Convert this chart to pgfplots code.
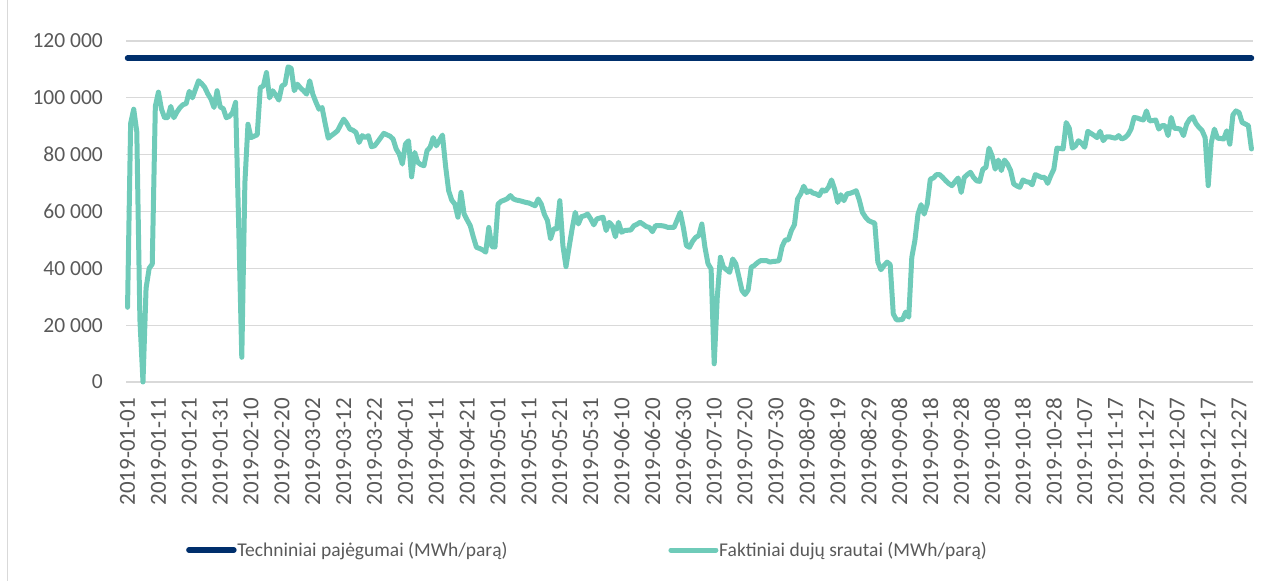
\documentclass[border=0pt]{standalone}
\usepackage{fontspec}
\setmainfont{Carlito}
\usepackage{pgfplots}
\pgfplotsset{compat=1.18}
\usepackage{pgfplotstable}

\definecolor{navyline}{HTML}{002F6C}
\definecolor{flowline}{HTML}{6FCBB9}
\definecolor{gridgray}{HTML}{D9D9D9}
\definecolor{txtgray}{HTML}{595959}

% daily flows, day 0 = 2019-01-01
\pgfplotstableread{
d v
0 26300
1 91000
2 96000
3 88000
4 22000
5 0
6 33000
7 40000
8 41500
9 97000
10 102000
11 96000
12 93000
13 93000
14 97000
15 93000
16 95000
17 96600
18 97600
19 98000
20 102300
21 100000
22 103000
23 106000
24 105000
25 103700
26 101400
27 99600
28 96600
29 102500
30 96800
31 96200
32 93000
33 93500
34 94800
35 98400
36 55000
37 8700
38 70000
39 90700
40 86000
41 86500
42 87000
43 103600
44 104200
45 108900
46 100000
47 102500
48 101000
49 99200
50 104200
51 104800
52 110900
53 110400
54 102500
55 104800
56 103500
57 102500
58 101300
59 106000
60 101300
61 98500
62 96000
63 96600
64 91000
65 85800
66 86700
67 87500
68 88400
69 90500
70 92500
71 91000
72 89000
73 88600
74 87800
75 84300
76 86700
77 86000
78 86700
79 82800
80 83100
81 84500
82 86000
83 87500
84 87000
85 86500
86 85500
87 82000
88 80200
89 76700
90 83700
91 84900
92 72200
93 80800
94 77300
95 76500
96 76100
97 81400
98 82600
99 86000
100 83100
101 85000
102 86900
103 76000
104 67300
105 64000
106 62600
107 58000
108 66700
109 59100
110 57000
111 55000
112 51000
113 47400
114 47000
115 46500
116 45700
117 54400
118 47600
119 47500
120 62600
121 63600
122 64000
123 64500
124 65600
125 64400
126 64000
127 63800
128 63500
129 63200
130 63000
131 62500
132 62000
133 64400
134 62600
135 59000
136 56800
137 50400
138 53900
139 53900
140 63800
141 48000
142 40600
143 47400
144 54000
145 59700
146 55600
147 58200
148 58500
149 59100
150 57400
151 55300
152 57400
153 57700
154 58000
155 53300
156 56200
157 55000
158 51100
159 56200
160 52700
161 53300
162 53400
163 53500
164 55000
165 55500
166 56200
167 55500
168 54700
169 54400
170 52900
171 55000
172 55000
173 55000
174 54800
175 54400
176 54400
177 54400
178 57000
179 59700
180 54400
181 48000
182 47400
183 49500
184 50900
185 51500
186 55600
187 47400
188 41600
189 39800
190 6400
191 30000
192 43900
193 40400
194 39500
195 38600
196 43300
197 41600
198 37000
199 32200
200 30800
201 32400
202 40400
203 41000
204 42000
205 42700
206 42700
207 42700
208 42200
209 42400
210 42500
211 42700
212 47700
213 50000
214 50000
215 53300
216 55400
217 64400
218 66200
219 68900
220 66700
221 67300
222 66500
223 66200
224 65600
225 67600
226 67100
227 68500
228 71100
229 67900
230 63200
231 65900
232 63800
233 66200
234 66400
235 66800
236 67300
237 64000
238 59700
239 58000
240 56800
241 56300
242 55900
243 42200
244 39500
245 41000
246 42200
247 41300
248 24000
249 21900
250 21900
251 22000
252 24600
253 22800
254 43900
255 49800
256 59100
257 62400
258 59100
259 62600
260 71400
261 71800
262 73000
263 73000
264 72000
265 70800
266 69800
267 69100
268 70500
269 71800
270 66700
271 72000
272 73000
273 73800
274 72000
275 70800
276 70600
277 74900
278 75500
279 82300
280 79600
281 74900
282 78100
283 74400
284 78100
285 76700
286 74400
287 69700
288 69000
289 68500
290 71100
291 70500
292 70300
293 69400
294 73000
295 72500
296 72000
297 72000
298 69900
299 72600
300 74900
301 82300
302 82200
303 82000
304 91300
305 89300
306 82300
307 83100
308 84900
309 84000
310 82600
311 88200
312 87500
313 86800
314 86000
315 88200
316 84900
317 86300
318 86300
319 86000
320 85800
321 86700
322 85500
323 86000
324 87000
325 89000
326 93100
327 92900
328 92500
329 92200
330 95400
331 91900
332 92000
333 92200
334 89000
335 90200
336 90200
337 86700
338 93100
339 89300
340 89200
341 89000
342 86700
343 90700
344 92500
345 93300
346 91000
347 89600
348 88500
349 86000
350 69100
351 84300
352 89000
353 85800
354 85700
355 85500
356 88400
357 83700
358 94000
359 95400
360 94800
361 91300
362 90800
363 90200
364 82000
}\flows

\begin{document}
\begin{tikzpicture}
\useasboundingbox (0,0) rectangle (1272bp,581bp);
\draw[gridgray, line width=1bp] (7bp,0) -- (7bp,581bp);
\begin{axis}[
    at={(126bp,199bp)}, anchor=south west,
    width=1127bp, height=341bp, scale only axis,
    xmin=-0.5, xmax=364.5, ymin=0, ymax=120000,
    clip=false,
    scaled y ticks=false,
    axis line style={draw=none},
    major tick length=0pt,
    ymajorgrids,
    grid style={gridgray, line width=1.3bp},
    ytick={0,20000,40000,60000,80000,100000,120000},
    yticklabels={0,20 000,40 000,60 000,80 000,100 000,120 000},
    yticklabel style={inner sep=0pt, text=txtgray, font=\fontsize{21.5bp}{23bp}\selectfont},
    yticklabel shift=23bp,
    xtick={0,10,...,360},
    xticklabels={2019-01-01,2019-01-11,2019-01-21,2019-01-31,2019-02-10,2019-02-20,
        2019-03-02,2019-03-12,2019-03-22,2019-04-01,2019-04-11,2019-04-21,
        2019-05-01,2019-05-11,2019-05-21,2019-05-31,2019-06-10,2019-06-20,
        2019-06-30,2019-07-10,2019-07-20,2019-07-30,2019-08-09,2019-08-19,
        2019-08-29,2019-09-08,2019-09-18,2019-09-28,2019-10-08,2019-10-18,
        2019-10-28,2019-11-07,2019-11-17,2019-11-27,2019-12-07,2019-12-17,2019-12-27},
    xticklabel style={rotate=90, anchor=east, inner sep=0pt, text=txtgray,
        font=\fontsize{23bp}{25bp}\selectfont},
    xticklabel shift=16bp,
    legend columns=2,
    legend style={at={(0.0532,-0.4927)}, anchor=west, draw=none, fill=none,
        inner sep=0pt, text=txtgray, font=\fontsize{19.5bp}{22bp}\selectfont,
        nodes={inner sep=0.8bp},
        /tikz/every even column/.append style={column sep=160bp}},
    legend image code/.code={\draw[#1] (0bp,0bp) -- (45bp,0bp);},
]
\addplot[navyline, line width=5.5bp, line cap=round] coordinates {(0,114000) (364,114000)};
\addlegendentry{Techniniai pajėgumai (MWh/parą)}
\addplot[flowline, line width=5bp, line join=round, line cap=round] table[x=d, y=v] {\flows};
\addlegendentry{Faktiniai dujų srautai (MWh/parą)}
\end{axis}
\end{tikzpicture}
\end{document}
